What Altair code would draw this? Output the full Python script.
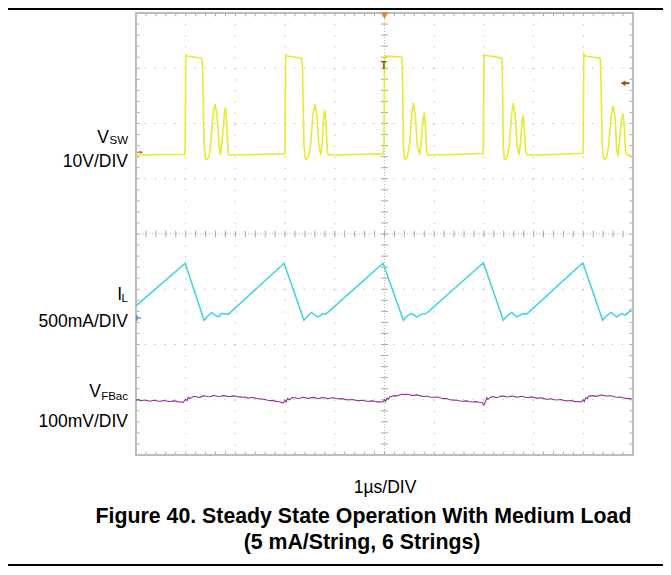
import altair as alt
import pandas as pd
import numpy as np

# ---------------- data (time in divisions, amplitude in divisions from bottom) -------------
vsw_t = [0.00, 0.50, 0.98,
         0.99, 1.00, 1.03, 1.20, 1.32, 1.34, 1.37, 1.40, 1.43, 1.47, 1.50, 1.55, 1.59, 1.63, 1.67, 1.70, 1.74, 1.78, 1.80, 1.82, 1.85, 1.87, 2.40, 2.99,
         3.00, 3.01, 3.04, 3.20, 3.33, 3.35, 3.38, 3.41, 3.43, 3.47, 3.51, 3.56, 3.60, 3.64, 3.68, 3.72, 3.75, 3.78, 3.80, 3.82, 3.85, 3.87, 4.40, 4.98,
         4.99, 5.00, 5.03, 5.20, 5.35, 5.36, 5.38, 5.40, 5.42, 5.46, 5.50, 5.55, 5.58, 5.62, 5.66, 5.71, 5.74, 5.78, 5.80, 5.82, 5.85, 5.87, 6.40, 6.98,
         6.99, 7.00, 7.03, 7.20, 7.36, 7.37, 7.39, 7.41, 7.43, 7.47, 7.51, 7.56, 7.59, 7.63, 7.67, 7.71, 7.74, 7.77, 7.79, 7.81, 7.84, 7.87, 8.40, 8.99,
         9.00, 9.01, 9.04, 9.20, 9.34, 9.35, 9.38, 9.41, 9.43, 9.47, 9.51, 9.56, 9.60, 9.64, 9.67, 9.70, 9.73, 9.77, 9.80, 9.82, 9.85, 9.88, 9.97]
vsw_v = [5.43, 5.44, 5.44,
         5.60, 7.24, 7.22, 7.20, 7.18, 7.00, 5.60, 5.36, 5.35, 5.40, 5.60, 6.15, 6.35, 6.15, 5.60, 5.43, 5.75, 6.20, 6.29, 6.10, 5.50, 5.43, 5.44, 5.45,
         5.60, 7.24, 7.22, 7.20, 7.18, 7.00, 5.60, 5.36, 5.35, 5.40, 5.60, 6.15, 6.35, 6.15, 5.60, 5.43, 5.72, 6.15, 6.24, 6.05, 5.50, 5.43, 5.44, 5.45,
         5.60, 7.22, 7.22, 7.21, 7.20, 7.00, 5.60, 5.36, 5.35, 5.40, 5.60, 6.17, 6.37, 6.15, 5.60, 5.43, 5.70, 6.10, 6.20, 6.00, 5.50, 5.43, 5.44, 5.46,
         5.60, 7.24, 7.23, 7.21, 7.18, 7.00, 5.60, 5.36, 5.35, 5.40, 5.60, 6.17, 6.37, 6.15, 5.60, 5.43, 5.70, 6.05, 6.15, 5.95, 5.50, 5.43, 5.44, 5.46,
         5.60, 7.26, 7.22, 7.20, 7.18, 7.00, 5.60, 5.36, 5.35, 5.40, 5.60, 6.13, 6.33, 6.10, 5.55, 5.40, 5.70, 6.08, 6.18, 6.00, 5.50, 5.43, 5.43]

il_t = [0.00, 0.99, 1.37, 1.45, 1.52, 1.59, 1.66, 1.72, 1.86,
        2.98, 3.38, 3.46, 3.53, 3.60, 3.67, 3.76, 3.82,
        4.97, 5.38, 5.46, 5.55, 5.65, 5.75, 5.84,
        6.99, 7.39, 7.47, 7.56, 7.66, 7.79, 7.86,
        8.99, 9.39, 9.47, 9.56, 9.67, 9.77, 9.84, 9.91, 9.97]
il_v = [2.70, 3.47, 2.44, 2.52, 2.58, 2.53, 2.50, 2.56, 2.55,
        3.47, 2.44, 2.52, 2.58, 2.53, 2.50, 2.56, 2.55,
        3.47, 2.44, 2.52, 2.56, 2.50, 2.55, 2.56,
        3.48, 2.44, 2.52, 2.58, 2.50, 2.56, 2.55,
        3.48, 2.44, 2.52, 2.58, 2.50, 2.56, 2.53, 2.58, 2.65]

vfb_t = [0.00, 0.05, 0.10, 0.15, 0.20, 0.25, 0.30, 0.35, 0.40, 0.45, 0.50, 0.55, 0.60, 0.65, 0.70, 0.75, 0.80, 0.85, 0.90, 0.95,
         1.00, 1.03, 1.05, 1.08, 1.10, 1.15, 1.20, 1.25, 1.30, 1.35, 1.40, 1.45, 1.50, 1.55, 1.60, 1.65, 1.70, 1.75, 1.80, 1.85, 1.90, 1.95,
         2.00, 2.05, 2.10, 2.15, 2.20, 2.25, 2.30, 2.35, 2.40, 2.45, 2.50, 2.55, 2.60, 2.65, 2.70, 2.75, 2.80, 2.85, 2.90, 2.96,
         3.00, 3.02, 3.05, 3.08, 3.10, 3.15, 3.20, 3.25, 3.30, 3.35, 3.40, 3.45, 3.50, 3.55, 3.60, 3.65, 3.70, 3.75, 3.80, 3.85, 3.90, 3.95,
         4.00, 4.05, 4.10, 4.15, 4.20, 4.25, 4.30, 4.35, 4.40, 4.45, 4.50, 4.55, 4.60, 4.65, 4.70, 4.75, 4.80, 4.85, 4.90, 4.97,
         5.00, 5.02, 5.05, 5.08, 5.10, 5.15, 5.20, 5.25, 5.30, 5.35, 5.40, 5.45, 5.50, 5.55, 5.60, 5.65, 5.70, 5.75, 5.80, 5.85, 5.90, 5.95,
         6.00, 6.05, 6.10, 6.15, 6.20, 6.25, 6.30, 6.35, 6.40, 6.45, 6.50, 6.55, 6.60, 6.65, 6.70, 6.75, 6.80, 6.85, 6.90, 6.97,
         7.00, 7.03, 7.06, 7.08, 7.10, 7.15, 7.20, 7.25, 7.30, 7.35, 7.40, 7.45, 7.50, 7.55, 7.60, 7.65, 7.70, 7.75, 7.80, 7.85, 7.90, 7.95,
         8.00, 8.05, 8.10, 8.15, 8.20, 8.25, 8.30, 8.35, 8.40, 8.45, 8.50, 8.55, 8.60, 8.65, 8.70, 8.75, 8.80, 8.85, 8.90, 8.97,
         9.00, 9.02, 9.05, 9.08, 9.10, 9.15, 9.20, 9.25, 9.30, 9.35, 9.40, 9.45, 9.50, 9.55, 9.60, 9.65, 9.70, 9.75, 9.80, 9.85, 9.90, 9.95, 9.97]
vfb_v = [0.995, 1.002, 0.985, 0.992, 0.990, 0.980, 0.978, 0.990, 0.985, 0.972, 0.975, 0.986, 0.982, 0.970, 0.968, 0.980, 0.975, 0.962, 0.960, 0.952,
         1.010, 0.985, 1.045, 1.020, 1.030, 1.058, 1.060, 1.040, 1.048, 1.070, 1.068, 1.055, 1.060, 1.075, 1.072, 1.058, 1.062, 1.074, 1.070, 1.058, 1.060, 1.070,
         1.066, 1.050, 1.052, 1.045, 1.048, 1.030, 1.035, 1.040, 1.030, 1.018, 1.015, 1.010, 1.005, 0.990, 0.985, 0.988, 0.975, 0.968, 0.960, 0.940,
         0.990, 0.960, 1.025, 1.000, 1.010, 1.040, 1.035, 1.022, 1.028, 1.045, 1.040, 1.025, 1.030, 1.042, 1.038, 1.022, 1.025, 1.040, 1.035, 1.020, 1.028, 1.036,
         1.030, 1.018, 1.015, 1.020, 1.010, 0.998, 1.000, 1.005, 0.995, 0.984, 0.985, 0.990, 0.982, 0.972, 0.975, 0.980, 0.972, 0.962, 0.965, 0.960,
         1.000, 0.965, 1.030, 1.010, 1.050, 1.062, 1.075, 1.070, 1.085, 1.098, 1.095, 1.100, 1.090, 1.080, 1.080, 1.088, 1.075, 1.065, 1.060, 1.068, 1.055, 1.045,
         1.045, 1.050, 1.040, 1.028, 1.020, 1.022, 1.005, 0.998, 0.990, 0.995, 0.982, 0.972, 0.975, 0.980, 0.968, 0.960, 0.962, 0.966, 0.955, 0.950,
         0.905, 0.960, 1.040, 1.005, 1.020, 1.052, 1.055, 1.040, 1.050, 1.068, 1.065, 1.050, 1.055, 1.066, 1.062, 1.048, 1.050, 1.062, 1.055, 1.040, 1.042, 1.052,
         1.045, 1.030, 1.030, 1.035, 1.025, 1.010, 1.012, 1.018, 1.005, 0.995, 1.000, 1.002, 0.990, 0.980, 0.982, 0.985, 0.975, 0.965, 0.968, 0.960,
         1.000, 0.968, 1.040, 1.020, 1.060, 1.070, 1.075, 1.062, 1.070, 1.085, 1.080, 1.068, 1.068, 1.072, 1.062, 1.050, 1.045, 1.050, 1.035, 1.025, 1.020, 1.022, 1.008]

label_main = ["10V/DIV", "500mA/DIV", "100mV/DIV"]
xlabel = "1\u00b5s/DIV"
title1 = "Figure 40. Steady State Operation With Medium Load"
title2 = "(5 mA/String, 6 Strings)"

# ---------------- layout -------------
W, H = 497, 442
FONT = "Liberation Sans"
xs = alt.Scale(domain=[0, 10], nice=False, zero=False)
ys = alt.Scale(domain=[0, 8], nice=False, zero=False)
GRID = "#b8b8b8"


def X(f):
    return alt.X(f, type="quantitative", scale=xs, axis=None)


def Y(f):
    return alt.Y(f, type="quantitative", scale=ys, axis=None)


def trace(t, v, color, width):
    df = pd.DataFrame({"t": t, "v": v, "i": range(len(t))})
    return alt.Chart(df).mark_line(color=color, strokeWidth=width, clip=True).encode(
        x=X("t"), y=Y("v"), order="i:Q")


def txt(s, x, y, size, align="right", weight="normal"):
    return alt.Chart(pd.DataFrame({"s": [s]})).mark_text(
        align=align, baseline="alphabetic", fontSize=size, fontWeight=weight,
        font=FONT, color="black").encode(x=alt.value(x), y=alt.value(y), text="s:N")


layers = []

# grid
vgrid = pd.DataFrame({"t": [1, 2, 3, 4, 6, 7, 8, 9]})
hgrid = pd.DataFrame({"v": [1, 2, 3, 5, 6, 7]})
layers.append(alt.Chart(vgrid).mark_rule(color=GRID, strokeWidth=1, strokeDash=[1.3, 9.75]).encode(x=X("t")))
layers.append(alt.Chart(hgrid).mark_rule(color=GRID, strokeWidth=1, strokeDash=[1.3, 8.64]).encode(y=Y("v")))
# centre lines (finely dotted) with minor ticks
layers.append(alt.Chart(pd.DataFrame({"t": [5]})).mark_rule(color=GRID, strokeWidth=1, strokeDash=[1, 2]).encode(x=X("t")))
layers.append(alt.Chart(pd.DataFrame({"v": [4]})).mark_rule(color=GRID, strokeWidth=1, strokeDash=[1, 2]).encode(y=Y("v")))
mt = pd.DataFrame({"t": np.round(np.arange(0.2, 10, 0.2), 2)})
mv = pd.DataFrame({"v": np.round(np.arange(0.2, 8, 0.2), 2)})
TK = "#a8a8a8"
layers.append(alt.Chart(mt).mark_rule(color=TK, strokeWidth=1).encode(
    x=X("t"), y=alt.YDatum(3.94, scale=ys, axis=None), y2=alt.Y2Datum(4.06)))
layers.append(alt.Chart(mv).mark_rule(color=TK, strokeWidth=1).encode(
    y=Y("v"), x=alt.XDatum(4.93, scale=xs, axis=None), x2=alt.X2Datum(5.07)))
# edge ticks
layers.append(alt.Chart(mt).mark_rule(color=TK, strokeWidth=1).encode(
    x=X("t"), y=alt.YDatum(0, scale=ys, axis=None), y2=alt.Y2Datum(0.06)))
layers.append(alt.Chart(mt).mark_rule(color=TK, strokeWidth=1).encode(
    x=X("t"), y=alt.YDatum(7.94, scale=ys, axis=None), y2=alt.Y2Datum(8)))
layers.append(alt.Chart(mv).mark_rule(color=TK, strokeWidth=1).encode(
    y=Y("v"), x=alt.XDatum(0, scale=xs, axis=None), x2=alt.X2Datum(0.07)))
layers.append(alt.Chart(mv).mark_rule(color=TK, strokeWidth=1).encode(
    y=Y("v"), x=alt.XDatum(9.93, scale=xs, axis=None), x2=alt.X2Datum(10)))
# frame
layers.append(alt.Chart(pd.DataFrame({"a": [0]})).mark_rect(filled=False, stroke="#bdbdbd", strokeWidth=2).encode(
    x=alt.XDatum(0, scale=xs, axis=None), x2=alt.X2Datum(10),
    y=alt.YDatum(0, scale=ys, axis=None), y2=alt.Y2Datum(8)))

# traces
layers.append(trace(vfb_t, vfb_v, "#93309a", 1.1))
layers.append(trace(il_t, il_v, "#3fd3e0", 1.5))
layers.append(trace(vsw_t, vsw_v, "#e9e933", 1.6))

# scope markers
one = pd.DataFrame({"a": [0]})
layers.append(alt.Chart(one).mark_point(shape="triangle-down", filled=True, size=55, color="#e8862a", opacity=1).encode(
    x=alt.XDatum(5, scale=xs, axis=None), y=alt.YDatum(7.95, scale=ys, axis=None)))
layers.append(alt.Chart(one).mark_text(text="T", fontSize=10, fontWeight="bold", color="#8a4a1a", font=FONT).encode(
    x=alt.XDatum(4.985, scale=xs, axis=None), y=alt.YDatum(7.04, scale=ys, axis=None)))
layers.append(alt.Chart(one).mark_rule(color="#9a4e14", strokeWidth=2).encode(
    x=alt.XDatum(9.80, scale=xs, axis=None), x2=alt.X2Datum(9.93), y=alt.YDatum(6.73, scale=ys, axis=None)))
layers.append(alt.Chart(one).mark_point(shape="triangle-left", filled=True, size=30, color="#9a4e14", opacity=1).encode(
    x=alt.XDatum(9.80, scale=xs, axis=None), y=alt.YDatum(6.73, scale=ys, axis=None)))
layers.append(alt.Chart(one).mark_rule(color="#b07a2a", strokeWidth=1.2).encode(
    x=alt.XDatum(0.02, scale=xs, axis=None), x2=alt.X2Datum(0.11), y=alt.YDatum(5.48, scale=ys, axis=None)))
layers.append(alt.Chart(one).mark_point(shape="triangle-right", filled=True, size=12, color="#b07a2a", opacity=1).encode(
    x=alt.XDatum(0.11, scale=xs, axis=None), y=alt.YDatum(5.48, scale=ys, axis=None)))
layers.append(alt.Chart(one).mark_rule(color="#3a78c8", strokeWidth=1.2).encode(
    x=alt.XDatum(0.02, scale=xs, axis=None), x2=alt.X2Datum(0.10), y=alt.YDatum(2.48, scale=ys, axis=None)))
layers.append(alt.Chart(one).mark_rule(color="#3a78c8", strokeWidth=1.2).encode(
    x=alt.XDatum(0.02, scale=xs, axis=None), y=alt.YDatum(2.43, scale=ys, axis=None), y2=alt.Y2Datum(2.53)))

# channel labels
layers.append(txt("V", -27, 130, 17.5))
layers.append(txt("SW", -8, 131, 11.5))
layers.append(txt(label_main[0], -8, 154, 17.5))
layers.append(txt("I", -14, 287, 17.5))
layers.append(txt("L", -8, 289, 11.5))
layers.append(txt(label_main[1], -8, 314, 17.5))
layers.append(txt("V", -35, 384, 17.5))
layers.append(txt("FBac", -8, 387, 11.5))
layers.append(txt(label_main[2], -8, 414, 17.5))

# x scale label and figure caption
layers.append(txt(xlabel, 249, 480, 17.5, align="center"))
layers.append(txt(title1, 227.5, 510, 21.3, align="center", weight="bold"))
layers.append(txt(title2, 226, 536, 21.3, align="center", weight="bold"))

# page rules
layers.append(alt.Chart(one).mark_rule(color="black", strokeWidth=2).encode(
    x=alt.value(-128), x2=alt.value(W + 30), y=alt.value(-4)))
layers.append(alt.Chart(one).mark_rule(color="black", strokeWidth=2).encode(
    x=alt.value(-128), x2=alt.value(W + 30), y=alt.value(552)))

chart = alt.layer(*layers).properties(
    width=W, height=H,
    autosize=alt.AutoSizeParams(type="none"),
    padding={"left": 128, "top": 5, "right": 30, "bottom": 112},
    background="white",
).configure_view(stroke=None)

chart.save("out.html", embed_options={"renderer": "svg", "actions": False})
